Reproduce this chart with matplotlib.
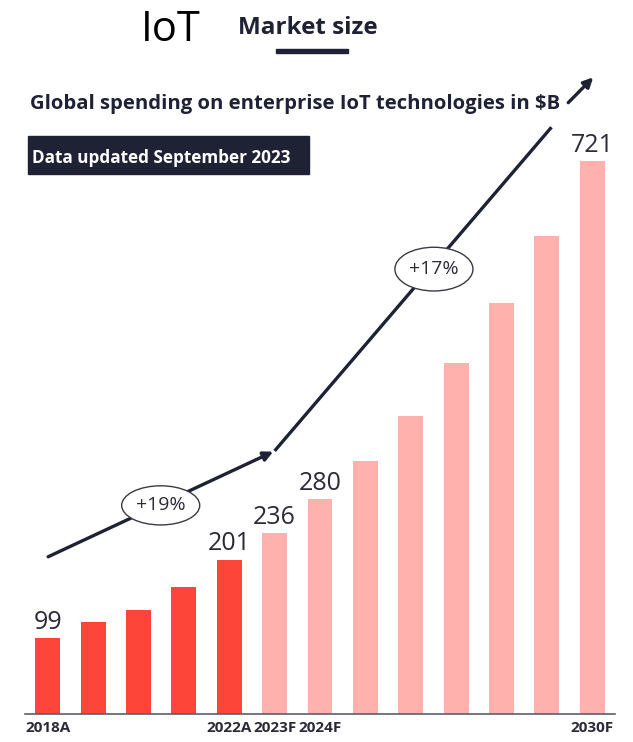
import matplotlib.pyplot as plt
from matplotlib.patches import Ellipse, Rectangle

plt.rcParams['font.family'] = ['Open Sans', 'DejaVu Sans']

years = ['2018A', '2019A', '2020A', '2021A', '2022A', '2023F', '2024F',
         '2025F', '2026F', '2027F', '2028F', '2029F', '2030F']
spend = [99, 120, 136, 165, 201, 236, 280, 330, 389, 458, 536, 623, 721]
actual = [True] * 5 + [False] * 8
shown_ticks = ['2018A', '2022A', '2023F', '2024F', '2030F']
shown_values = [0, 4, 5, 6, 12]

# trend arrows in (bar index, $B) units
trend1 = [(0.01, 205), (4.97, 342)]
trend2 = [(5.0, 343), (11.10, 765)]
trend3 = [(11.47, 797), (12.02, 830)]
cagr = [('+19%', 2.49, 272, 51), ('+17%', 8.51, 580, 57)]

navy = '#1f2235'
red = '#fe4539'
pink = '#ffb2ad'

W, H = 633, 742
fig = plt.figure(figsize=(W / 100, H / 100), dpi=100)
ax = fig.add_axes([25 / W, 28 / H, 590 / W, 644.3 / H])

x = list(range(len(years)))
colors = [red if a else pink for a in actual]
ax.bar(x, spend, width=0.55, color=colors, zorder=2)
ax.set_xlim(-0.5, len(years) - 0.5)
ax.set_ylim(0, 840)

for i in shown_values:
    ax.annotate(str(spend[i]), (x[i], spend[i]), xytext=(0, 2.5),
                textcoords='offset points', ha='center', va='bottom',
                fontsize=18, color='#2b2b38')

ax.set_xticks(x)
ax.set_xticklabels([y if y in shown_ticks else '' for y in years],
                   fontsize=11, fontweight='bold', color='#2b2b38')
ax.tick_params(axis='x', length=0, pad=5)
ax.set_yticks([])
for s in ['top', 'right', 'left']:
    ax.spines[s].set_visible(False)
ax.spines['bottom'].set_color('#5f5f6a')
ax.spines['bottom'].set_linewidth(1.2)

ax.annotate('', xy=trend1[1], xytext=trend1[0],
            arrowprops=dict(arrowstyle='-|>', color=navy, lw=2.4,
                            mutation_scale=14, shrinkA=0, shrinkB=0), zorder=3)
ax.plot([p[0] for p in trend2], [p[1] for p in trend2], color=navy, lw=2.4,
        solid_capstyle='butt', zorder=3)
ax.annotate('', xy=trend3[1], xytext=trend3[0],
            arrowprops=dict(arrowstyle='-|>', color=navy, lw=2.4,
                            mutation_scale=14, shrinkA=0, shrinkB=0),
            annotation_clip=False, zorder=3)

for label, cx, cy, h in cagr:
    ax.add_patch(Ellipse((cx, cy), 1.72, h, facecolor='white',
                         edgecolor='#3a3a45', lw=1.0, zorder=4))
    ax.text(cx, cy, label, ha='center', va='center', fontsize=14,
            color='#2b2b38', zorder=5)

# header texts, placed in pixel rows from the top
def fy(py):
    return 1 - py / H

fig.text(141 / W, fy(41), 'IoT', fontsize=30, color='black', va='baseline')
fig.text(238 / W, fy(33.5), 'Market size', fontsize=17.5,
         fontweight='bold', color=navy, va='baseline')
fig.add_artist(Rectangle((276 / W, fy(53)), 72 / W, 4 / H,
                         color=navy, transform=fig.transFigure))
fig.text(30 / W, fy(109.5), 'Global spending on enterprise IoT technologies in $B',
         fontsize=14.6, fontweight='bold', color=navy, va='baseline')
fig.add_artist(Rectangle((28 / W, fy(174)), 281 / W, 38 / H,
                         color=navy, transform=fig.transFigure))
fig.text(32 / W, fy(163), 'Data updated September 2023', fontsize=12.3,
         fontweight='bold', color='white', va='baseline')

fig.savefig('out.png', dpi=100)
